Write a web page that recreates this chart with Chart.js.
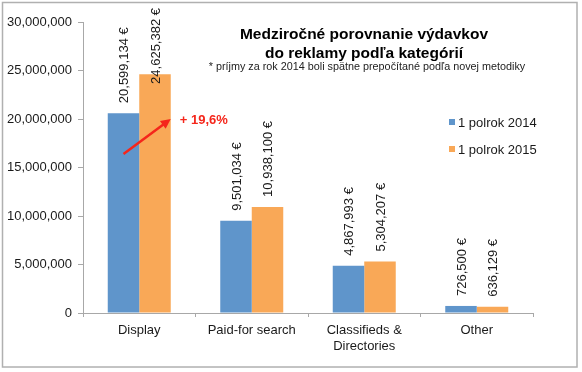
<!DOCTYPE html>
<html>
<head>
<meta charset="utf-8">
<script src="https://cdn.jsdelivr.net/npm/chart.js@4/dist/chart.umd.min.js"></script>
<style>
  html, body { margin: 0; padding: 0; background: #ffffff; }
  #wrap { width: 582px; height: 372px; position: relative; }
</style>
</head>
<body>
<div id="wrap"><canvas id="c" width="582" height="372"></canvas></div>
<script>
const categories = ['Display', 'Paid-for search', ['Classifieds &', 'Directories'], 'Other'];
const seriesNames = ['1 polrok 2014', '1 polrok 2015'];
const values2014 = [20599134, 9501034, 4867993, 726500];
const values2015 = [24625382, 10938100, 5304207, 636129];
const yTicks = [0, 5000000, 10000000, 15000000, 20000000, 25000000, 30000000];
const titleLines = ['Medziročné porovnanie výdavkov', 'do reklamy podľa kategórií'];
const subtitle = '* príjmy za rok 2014 boli spätne prepočítané podľa novej metodiky';
const growthLabel = '+ 19,6%';

const FONT = '"Liberation Sans", Arial, Helvetica, sans-serif';
const BLUE = '#5f95cb';
const ORANGE = '#f9a857';
const AXIS = '#a8a8a8';

function fmt(v) { return v.toLocaleString('en-US'); }

const decorPlugin = {
  id: 'decor',
  afterDatasetsDraw(chart) {
    const ctx = chart.ctx;
    const y = chart.scales.y;
    // value labels (rotated)
    ctx.save();
    ctx.font = '13px ' + FONT;
    ctx.fillStyle = '#1a1a1a';
    chart.data.datasets.forEach((ds, di) => {
      const meta = chart.getDatasetMeta(di);
      meta.data.forEach((bar, i) => {
        const txt = fmt(ds.data[i]) + ' €';
        const w = ctx.measureText(txt).width;
        let bottom = bar.y - 10;
        if (bottom - w < 8) bottom = 8 + w;
        ctx.save();
        ctx.translate(bar.x + 1, bottom);
        ctx.rotate(-Math.PI / 2);
        ctx.textAlign = 'left';
        ctx.textBaseline = 'middle';
        ctx.fillText(txt, 0, 0);
        ctx.restore();
      });
    });
    ctx.restore();

    // growth arrow between Display bars
    const b0 = chart.getDatasetMeta(0).data[0];
    const b1 = chart.getDatasetMeta(1).data[0];
    const x0 = b0.x, y0 = y.getPixelForValue(16400000);
    const x1 = b1.x + (b1.width / 2), y1 = y.getPixelForValue(20000000);
    ctx.save();
    ctx.strokeStyle = '#f5261b';
    ctx.fillStyle = '#f5261b';
    ctx.lineWidth = 2.5;
    const ang = Math.atan2(y1 - y0, x1 - x0);
    const hl = 11;
    ctx.beginPath();
    ctx.moveTo(x0, y0);
    ctx.lineTo(x1 - Math.cos(ang) * hl * 0.8, y1 - Math.sin(ang) * hl * 0.8);
    ctx.stroke();
    ctx.beginPath();
    ctx.moveTo(x1, y1);
    ctx.lineTo(x1 - hl * Math.cos(ang - 0.45), y1 - hl * Math.sin(ang - 0.45));
    ctx.lineTo(x1 - hl * Math.cos(ang + 0.45), y1 - hl * Math.sin(ang + 0.45));
    ctx.closePath();
    ctx.fill();
    ctx.font = 'bold 13px ' + FONT;
    ctx.textAlign = 'left';
    ctx.textBaseline = 'middle';
    ctx.fillText(growthLabel, x1 + 9, y1 + 1);
    ctx.restore();

    // title & subtitle
    ctx.save();
    ctx.fillStyle = '#000';
    ctx.textAlign = 'center';
    ctx.textBaseline = 'middle';
    ctx.font = 'bold 15.5px ' + FONT;
    ctx.fillText(titleLines[0], 364, 35);
    ctx.fillText(titleLines[1], 364, 54);
    ctx.font = '10.8px ' + FONT;
    ctx.fillStyle = '#222';
    ctx.fillText(subtitle, 367, 67);
    ctx.restore();

    // legend
    ctx.save();
    ctx.font = '13px ' + FONT;
    ctx.textAlign = 'left';
    ctx.textBaseline = 'middle';
    const ly = [123, 150];
    chart.data.datasets.forEach((ds, di) => {
      ctx.fillStyle = ds.backgroundColor;
      ctx.fillRect(449, ly[di] - 4, 6, 6);
      ctx.fillStyle = '#1a1a1a';
      ctx.fillText(ds.label, 458, ly[di]);
    });
    ctx.restore();
  },
  afterDraw(chart) {
    const ctx = chart.ctx;
    ctx.save();
    ctx.strokeStyle = '#b0b0b0';
    ctx.lineWidth = 1.5;
    ctx.strokeRect(2.5, 2.5, 574.5, 364.5);
    ctx.restore();
  }
};

new Chart(document.getElementById('c'), {
  type: 'bar',
  data: {
    labels: categories,
    datasets: [
      { label: seriesNames[0], data: values2014, backgroundColor: BLUE, categoryPercentage: 0.56, barPercentage: 1.0 },
      { label: seriesNames[1], data: values2015, backgroundColor: ORANGE, categoryPercentage: 0.56, barPercentage: 1.0 }
    ]
  },
  options: {
    responsive: false,
    animation: false,
    devicePixelRatio: 1,
    layout: { padding: { left: 0, right: 49, top: 22, bottom: 0 } },
    plugins: { legend: { display: false }, tooltip: { enabled: false }, title: { display: false } },
    scales: {
      x: {
        grid: { display: true, drawOnChartArea: false, drawTicks: true, tickLength: 4, color: AXIS, offset: true },
        border: { display: true, color: AXIS, width: 1 },
        ticks: { color: '#1a1a1a', font: { family: FONT, size: 13 }, padding: 6, maxRotation: 0, autoSkip: false },
        afterFit(s) { s.height = 59; }
      },
      y: {
        min: 0, max: 30000000,
        afterBuildTicks(s) { s.ticks = yTicks.map(v => ({ value: v })); },
        grid: { display: true, drawOnChartArea: false, drawTicks: true, tickLength: 5, color: AXIS },
        border: { display: true, color: AXIS, width: 1 },
        ticks: { color: '#1a1a1a', font: { family: FONT, size: 13 }, padding: 6, callback: v => fmt(v) },
        afterFit(s) { s.width = 83; }
      }
    }
  },
  plugins: [decorPlugin]
});
</script>
</body>
</html>
